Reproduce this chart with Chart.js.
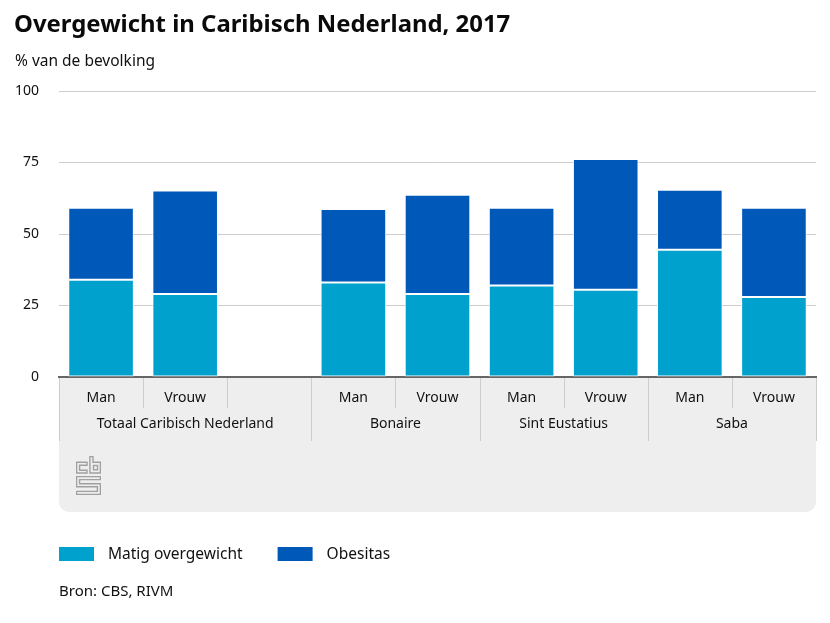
<!DOCTYPE html>
<html lang="nl"><head><meta charset="utf-8">
<script src="https://cdn.jsdelivr.net/npm/chart.js@4"></script>
<style>
html,body{margin:0;padding:0;background:#fff;}
#wrap{position:relative;width:830px;height:623px;overflow:hidden;font-family:"Noto Sans",sans-serif;color:#111;}
canvas{position:absolute;left:0;top:0;}
.t{position:absolute;white-space:nowrap;}
#title{left:14px;top:6px;font-size:23.9px;font-weight:700;line-height:34px;color:#0a0a0a;}
#sub{left:15px;top:49px;font-size:15.5px;line-height:22px;}
#src{left:59px;top:579px;font-size:15px;line-height:22px;}
#logo{position:absolute;left:76px;top:456px;}
</style></head><body>
<div id="wrap">
<canvas id="c" width="830" height="623"></canvas>
<div class="t" id="title">Overgewicht in Caribisch Nederland, 2017</div>
<div class="t" id="sub">% van de bevolking</div>
<div class="t" id="src">Bron: CBS, RIVM</div>
<svg id="logo" width="25" height="39" viewBox="0 0 25 39" fill="none" stroke="#a0a0a0" stroke-width="1.4">
<path d="M.6 6.3H11V9.3H3.6V14.3H11V17H.6Z"/>
<path d="M13.9.6H17V6.3H24.4V17H13.9Z"/><rect x="17.5" y="9.5" width="4" height="4.3"/>
<path d="M.6 20.6H24.4V23.6H3.6V27.7H24.4V38.4H.6V35.4H21.4V30.7H.6Z"/>
</svg>
</div>
<script>
const categories = ["Man","Vrouw","","Man","Vrouw","Man","Vrouw","Man","Vrouw"];
const groupNames = ["Totaal Caribisch Nederland","Bonaire","Sint Eustatius","Saba"];
const groupSpans = [3,2,2,2];
const matig = [34,29,null,33,29,32,30.5,44.5,28];
const obesitas = [25.2,36.2,null,25.7,34.7,27.2,45.7,21,31.2];
const yTicks = [0,25,50,75,100];
const FONT = '"Noto Sans", sans-serif';
const PANEL_H = 135;

const panel = {
  id:'panel',
  beforeDraw(chart){
    const {ctx,chartArea:a} = chart;
    ctx.save();
    ctx.fillStyle='#eeeeee';
    ctx.beginPath();
    ctx.roundRect(a.left,a.bottom,a.right-a.left,PANEL_H,[0,0,10,10]);
    ctx.fill();
    ctx.restore();
  },
  afterDraw(chart){
    const {ctx,chartArea:a,scales:{x}} = chart;
    const edge = i => i<=0 ? a.left : i>=categories.length ? a.right : (x.getPixelForValue(i-1)+x.getPixelForValue(i))/2;
    ctx.save();
    ctx.strokeStyle='#cccccc'; ctx.lineWidth=1;
    const line=(px,h)=>{ctx.beginPath();ctx.moveTo(Math.round(px)+.5,a.bottom+1);ctx.lineTo(Math.round(px)+.5,a.bottom+h);ctx.stroke();};
    for(let i=0;i<=categories.length;i++) line(edge(i),31);
    let s=0;
    ctx.fillStyle='#111'; ctx.font='14px '+FONT; ctx.textAlign='center'; ctx.textBaseline='middle';
    groupNames.forEach((g,k)=>{
      line(edge(s),64);
      ctx.fillText(g,(edge(s)+edge(s+groupSpans[k]))/2,a.bottom+47);
      s+=groupSpans[k];
    });
    line(edge(s),64);
    // legend
    ctx.font='15.5px '+FONT; ctx.textAlign='left';
    let lx=a.left; const ly=a.bottom+170;
    chart.data.datasets.forEach(d=>{
      ctx.fillStyle=d.backgroundColor;
      ctx.fillRect(lx,ly,35,14);
      ctx.fillStyle='#111';
      ctx.fillText(d.label,lx+49,ly+7.5);
      lx+=49+ctx.measureText(d.label).width+35;
    });
    ctx.restore();
  }
};

new Chart(document.getElementById('c'),{
  type:'bar',
  data:{labels:categories,datasets:[
    {label:'Matig overgewicht',data:matig,backgroundColor:'#00a1cd',borderColor:'#ffffff',borderWidth:1,borderSkipped:false},
    {label:'Obesitas',data:obesitas,backgroundColor:'#0058b8',borderColor:'#ffffff',borderWidth:1,borderSkipped:false}
  ]},
  plugins:[panel],
  options:{
    responsive:false,animation:false,
    layout:{padding:{top:91,right:14,left:0,bottom:0}},
    datasets:{bar:{categoryPercentage:0.78,barPercentage:1}},
    plugins:{tooltip:{enabled:false},title:{display:false},legend:{display:false}},
    scales:{
      x:{stacked:true,offset:true,
        grid:{display:false},
        border:{color:'#666666',width:2},
        ticks:{color:'#111',padding:5,autoSkip:false,maxRotation:0,font:{family:FONT,size:14}},
        afterFit(s){s.height=623-377;}
      },
      y:{stacked:true,min:0,max:100,
        afterBuildTicks(s){s.ticks=yTicks.map(v=>({value:v}));},
        grid:{color:'#cccccc',lineWidth:1,drawTicks:false},
        border:{display:false},
        ticks:{color:'#111',padding:20,font:{family:FONT,size:14}},
        afterFit(s){s.width=59;}
      }
    }
  }
});
</script>
</body></html>
